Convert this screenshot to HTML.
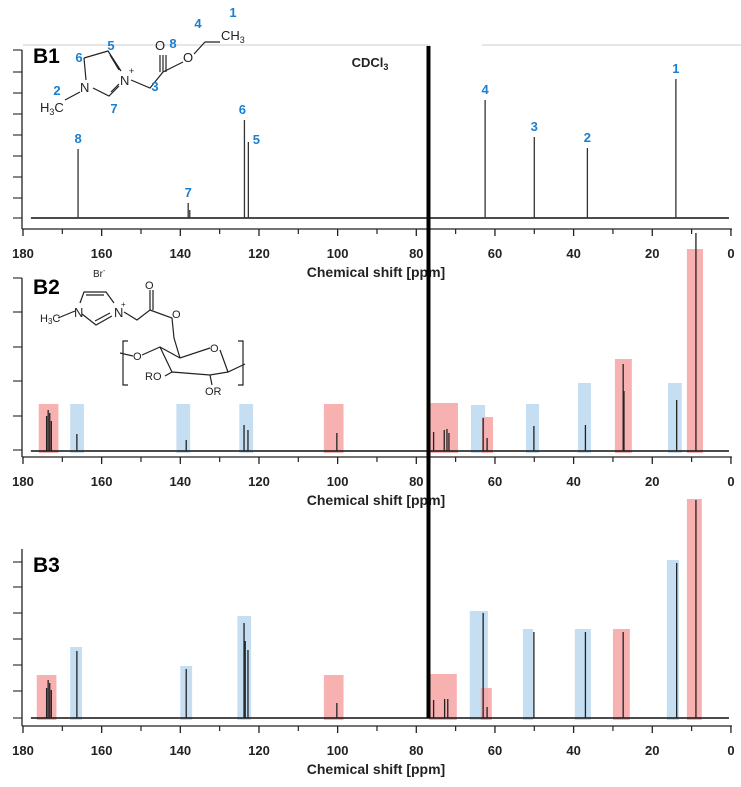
<!DOCTYPE html>
<html><head><meta charset="utf-8"><style>
html,body{margin:0;padding:0;background:#fff;}
svg{display:block;font-family:"Liberation Sans",sans-serif;}
.tl{font-size:13px;font-weight:bold;fill:#222;text-anchor:middle;}
.tt{font-size:14px;font-weight:bold;fill:#222;text-anchor:middle;}
.lb{font-size:13px;font-weight:bold;fill:#1a7fd0;text-anchor:middle;}
.mol{stroke:#222;stroke-width:1.2;fill:none;}
.mt{font-size:13px;fill:#222;}
</style></head><body>
<svg id="chart" width="741" height="787" viewBox="0 0 741 787" xmlns="http://www.w3.org/2000/svg">
<line x1="23" y1="45" x2="430" y2="45" stroke="#ccc" stroke-width="1"/>
<line x1="482" y1="45" x2="741" y2="45" stroke="#ccc" stroke-width="1"/>
<g id="layer"></g>
<!-- B1 structure -->
<g>
<text x="33" y="63" font-size="21" font-weight="bold" fill="#000">B1</text>
<path class="mol" d="M84,58 L108,51 L121,71 M110,55 L119,70 M86,80 L84,58 M93,88 L109,96 L119,86 M111,92 L119,84 M131,80 L150,88 L163,72 L163,55 M160,72 L160,55 M166,72 L166,55 M163,72 L183,62 M194,54 L205,42 L220,42 M65,100 L80,92"/>
<text class="mt" x="80" y="92">N</text>
<text class="mt" x="120" y="85">N</text><text x="129" y="74" font-size="9" fill="#222">+</text>
<text class="mt" x="155" y="50">O</text>
<text class="mt" x="183" y="62">O</text>
<text class="mt" x="221" y="40">CH<tspan font-size="9" dy="3">3</tspan></text>
<text class="mt" x="40" y="112">H<tspan font-size="9" dy="3">3</tspan><tspan dy="-3">C</tspan></text>
<text class="lb" x="233" y="17">1</text><text class="lb" x="198" y="28">4</text><text class="lb" x="173" y="48">8</text>
<text class="lb" x="111" y="50">5</text><text class="lb" x="79" y="62">6</text><text class="lb" x="57" y="95">2</text>
<text class="lb" x="114" y="113">7</text><text class="lb" x="155" y="91">3</text>
<text x="370" y="67" font-size="13" font-weight="bold" fill="#222" text-anchor="middle">CDCl<tspan font-size="9" dy="3">3</tspan></text>
</g>
<!-- B2 structure -->
<g>
<text x="33" y="294" font-size="21" font-weight="bold" fill="#000">B2</text>
<text x="93" y="277" font-size="10" fill="#222">Br<tspan font-size="7" dy="-4">-</tspan></text>
<path class="mol" d="M80,303 L84,292 L106,292 L114,303 M86,295 L104,295 M82,314 L96,325 L112,316 M95,321 L110,313 M58,318 L75,311 M124,312 L137,320 L150,310 L150,290 M153,310 L153,290 M150,310 L172,318 L174,338 L180,358 M120,353 L133,356 M142,355 L160,347 L180,358 L210,348 M220,350 L228,372 L245,364 M228,372 L210,375 L172,372 L160,347 M172,372 L165,376 M210,375 L212,385 M128,341 L123,341 L123,385 L128,385 M238,341 L243,341 L243,385 L238,385"/>
<text class="mt" x="74" y="317" font-size="11">N</text>
<text class="mt" x="114" y="317" font-size="11">N</text><text x="121" y="307" font-size="8" fill="#222">+</text>
<text x="145" y="289" font-size="11" fill="#222">O</text>
<text x="172" y="318" font-size="11" fill="#222">O</text>
<text x="40" y="322" font-size="11" fill="#222">H<tspan font-size="8" dy="2">3</tspan><tspan dy="-2">C</tspan></text>
<text x="133" y="360" font-size="11" fill="#222">O</text>
<text x="210" y="352" font-size="11" fill="#222">O</text>
<text x="145" y="380" font-size="11" fill="#222">RO</text>
<text x="205" y="395" font-size="11" fill="#222">OR</text>
</g>
<text x="33" y="572" font-size="21" font-weight="bold" fill="#000">B3</text>
</svg>
<script>
// x-axis ticks
const majorTicks = [180,160,140,120,100,80,60,40,20,0];
const minorTicks = [170,150,130,110,90,70,50,30,10];
// B1 peaks (ppm / intensity a.u.)
const b1Ppm = [166.0,138.0,137.6,123.7,122.7,62.5,50.0,36.5,14.0];
const b1Int = [69,15,8,98,76,118,81,70,139];
const b1LabelText = ["8","7","","6","5","4","3","2","1"];
// B2 peaks
const b2Ppm = [174.0,173.6,173.2,172.8,166.3,138.5,123.8,122.8,100.2,75.6,72.9,72.2,71.7,63.0,62.0,50.1,37.0,27.4,27.2,13.8,8.9];
const b2Int = [35,41,38,30,17,11,26,21,18,19,21,22,18,33,13,25,26,87,60,51,218];
// B2 highlight regions
const b2HiFrom = [176,168,141,125,103.5,76.5,66.1,63.3,52.1,38.9,29.5,16.0,11.2];
const b2HiTo   = [171,164.5,137.5,121.5,98.5,69.4,62.5,60.5,48.8,35.6,25.2,12.5,7.1];
const b2HiInt  = [47,47,47,47,47,48,46,34,47,68,92,68,202];
const b2HiType = ["r","b","b","b","r","r","b","r","b","b","r","b","r"];
// B3 peaks
const b3Ppm = [174.0,173.6,173.2,172.8,166.3,138.5,123.8,123.5,122.8,100.2,75.6,72.8,72.0,63.0,62.0,50.1,37.0,27.4,13.8,8.9];
const b3Int = [30,38,35,28,67,49,95,77,68,15,18,19,19,105,11,86,86,86,155,218];
const b3HiFrom = [176.5,168,140,125.5,103.5,76.8,66.4,63.6,52.9,39.7,30.0,16.3,11.2];
const b3HiTo   = [171.5,165,137,122,98.5,69.7,61.8,60.8,50.3,35.6,25.7,13.2,7.4];
const b3HiInt  = [43,71,52,102,43,44,107,30,89,89,89,158,219];
const b3HiType = ["r","b","b","b","r","r","b","r","b","b","r","b","r"];
const solventPpm = 76.9;

const NS = "http://www.w3.org/2000/svg";
const layer = document.getElementById('layer');
const xS = v => 23 + (180 - v) * 3.933;
function mk(tag, attrs, parent){const e=document.createElementNS(NS,tag);for(const k in attrs)e.setAttribute(k,attrs[k]);(parent||layer).appendChild(e);return e;}

const panels = [
 {name:'b1', base:218, axis:229, top:50, yt:[50,72,93,114,135,156,177,198,218]},
 {name:'b2', base:451, axis:457, top:278, yt:[278,312,347,381,416,450]},
 {name:'b3', base:718, axis:726, top:549, yt:[562,587,613,639,665,691,718]}
];
const yS = (p, v) => p.base - v;

function drawHi(p, from, to, ints, types){
  for(let i=0;i<from.length;i++){
    const x1=xS(from[i]), x2=xS(to[i]);
    const r=mk('rect',{x:x1,y:yS(p,ints[i]),width:x2-x1,height:ints[i]+2,fill:types[i]==='r'?'#f7a3a3':'#b6d6ee',opacity:types[i]==='r'?0.85:0.8});
    
    
  }
}
function drawPeaks(p, ppm, ints, color){
  const bl=mk('line',{x1:xS(178),y1:p.base,x2:xS(0.5),y2:p.base,stroke:'#111','stroke-width':1.6});
  
  
  for(let i=0;i<ppm.length;i++){
    const l=mk('line',{x1:xS(ppm[i]),y1:p.base,x2:xS(ppm[i]),y2:yS(p,ints[i]),stroke:color,'stroke-width':1.3});
    
    
  }
}
function drawAxes(p){
  const ax=mk('line',{x1:22,y1:p.axis,x2:xS(0)+1,y2:p.axis,stroke:'#222','stroke-width':1.3});
  
  
  const ya=mk('line',{x1:22,y1:p.top,x2:22,y2:p.axis,stroke:'#222','stroke-width':1.3});
  
  
  p.yt.forEach(y=>{mk('line',{x1:13,y1:y,x2:22,y2:y,stroke:'#222','stroke-width':1.1});});
  majorTicks.forEach(v=>{
    mk('line',{x1:xS(v),y1:p.axis,x2:xS(v),y2:p.axis+7,stroke:'#222','stroke-width':1.3});
    const t=mk('text',{x:xS(v),y:p.axis+29,class:'tl'});t.textContent=v;
    
    
  });
  minorTicks.forEach(v=>{mk('line',{x1:xS(v),y1:p.axis,x2:xS(v),y2:p.axis+5,stroke:'#222','stroke-width':1.2});});
  const tt=mk('text',{x:376,y:p.axis+48,class:'tt'});tt.textContent='Chemical shift [ppm]';
  
  
}
panels.forEach(drawAxes);
drawHi(panels[1], b2HiFrom, b2HiTo, b2HiInt, b2HiType);
drawHi(panels[2], b3HiFrom, b3HiTo, b3HiInt, b3HiType);
drawPeaks(panels[0], b1Ppm, b1Int, '#333');
drawPeaks(panels[1], b2Ppm, b2Int, '#222');
drawPeaks(panels[2], b3Ppm, b3Int, '#222');
// B1 peak labels
const lblDx=[0,0,0,-2,8,0,0,0,0];
b1Ppm.forEach((v,i)=>{
  if(!b1LabelText[i])return;
  const t=mk('text',{x:xS(v)+lblDx[i],y:yS(panels[0],b1Int[i])-(i===4?-2:6),class:'lb'});
  t.textContent=b1LabelText[i];
  
  
});
// solvent line
const sl=mk('line',{x1:xS(solventPpm),y1:46,x2:xS(solventPpm),y2:718,stroke:'#000','stroke-width':4});


</script>
</body></html>
